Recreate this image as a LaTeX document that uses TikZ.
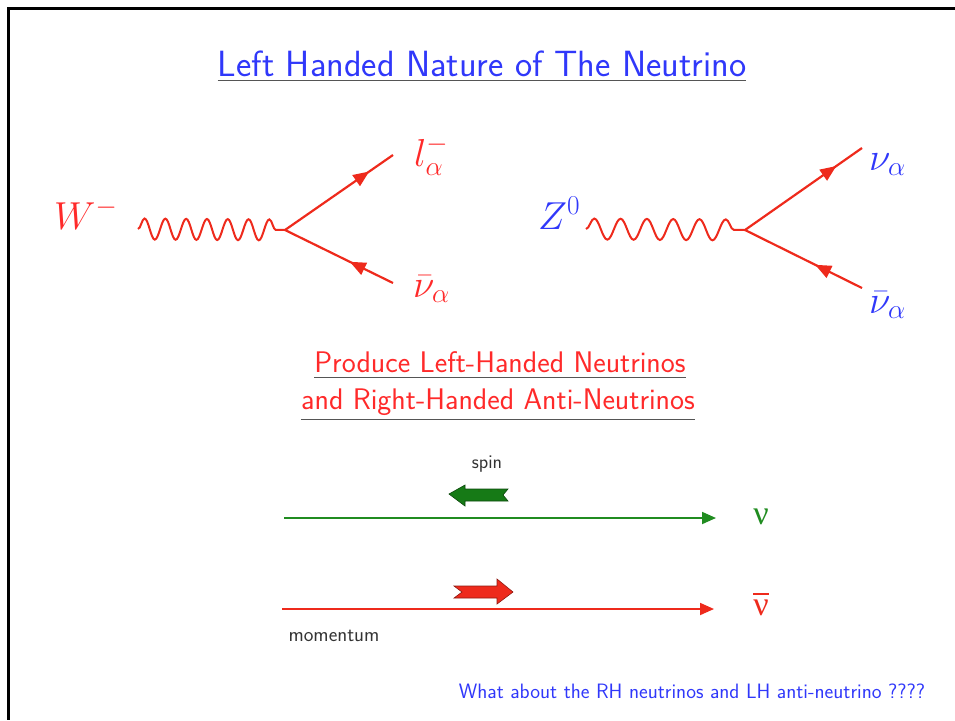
\RequirePackage{fix-cm}
\documentclass[tikz,border=0pt]{standalone}
\usepackage{fontspec}
\newfontfamily\nufont{Liberation Serif}
\usetikzlibrary{arrows.meta,decorations.pathmorphing,decorations.markings}
\definecolor{lnred}{RGB}{238,42,28}
\definecolor{txtred}{RGB}{255,42,42}
\definecolor{txtblue}{RGB}{48,56,250}
\definecolor{lngreen}{RGB}{32,140,32}
\definecolor{spingreen}{RGB}{22,122,22}
\definecolor{ulgray}{RGB}{85,85,85}
\tikzset{
  boson/.style={draw=lnred,line width=2pt,decorate,decoration={snake,amplitude=10.5pt,segment length=#1}},
  fermion/.style={draw=lnred,line width=2.2pt,postaction={decorate},
    decoration={markings,mark=at position #1 with {\arrow{Triangle[length=16pt,width=13pt]}}}},
  mathlbl/.style={inner sep=0pt,anchor=base west,font=\fontsize{39}{44}\selectfont},
  sftxt/.style={inner sep=0pt,anchor=base,font=\sffamily\fontsize{#1}{#1}\selectfont},
  uline/.style={draw=ulgray,line width=1.3pt},
  momline/.style={line width=1.8pt,-{Triangle[length=14pt,width=12pt]}},
  spinarrow/.style={line width=0.6pt,line join=miter}
}
\begin{document}
\begin{tikzpicture}[x=1pt,y=-1pt]
\useasboundingbox (0,0) rectangle (955,720);
\draw[line width=3pt] (955,8.5) -- (8.5,8.5) -- (8.5,720);
% title
\node[sftxt=36.5,text=txtblue] (ttl) at (482,76) {Left Handed Nature of The Neutrino};
\draw[uline] ([yshift=-4pt]ttl.south west) -- ([yshift=-4pt]ttl.south east);
% W vertex
\node[mathlbl,text=txtred] (W) at (54,229) {$W^-$};
\coordinate (wstart) at (138,229);
\coordinate (wv) at (285,230);
\coordinate (wl) at (393,155);
\coordinate (wn) at (393,283);
\draw[boson=20.8pt] (wstart) -- (wv);
\draw[fermion=0.78] (wv) -- (wl);
\draw[fermion=0.40] (wn) -- (wv);
\node[mathlbl,text=txtred] (lep) at (414,166) {$l_\alpha^-$};
\node[mathlbl,text=txtred] (wnub) at (413,297) {$\bar\nu_\alpha$};
% Z vertex
\node[mathlbl,text=txtblue] (Z) at (538,229) {$Z^0$};
\coordinate (zstart) at (586,229);
\coordinate (zv) at (745,230);
\coordinate (zn) at (862,148);
\coordinate (znb) at (862,288);
\draw[boson=26.3pt] (zstart) -- (zv);
\draw[fermion=0.78] (zv) -- (zn);
\draw[fermion=0.40] (znb) -- (zv);
\node[mathlbl,text=txtblue] (znu) at (869,170) {$\nu_\alpha$};
\node[mathlbl,text=txtblue] (zbar) at (869,313) {$\bar\nu_\alpha$};
% helicity
\node[sftxt=29.8,text=txtred] (lh) at (500,372) {Produce Left-Handed Neutrinos};
\draw[uline] ([yshift=-5pt]lh.south west) -- ([yshift=-5pt]lh.south east);
\node[sftxt=29.8,text=txtred] (rh) at (498,409) {and Right-Handed Anti-Neutrinos};
\draw[uline] ([yshift=-4pt]rh.south west) -- ([yshift=-4pt]rh.south east);
\node[sftxt=19.5,text=black!80] (spin) at (487,468) {spin};
\draw[spinarrow,fill=spingreen,draw=spingreen!60!black]
  (449,494) -- (465,485) -- (465,489) -- (508,489) -- (503,495) -- (508,501) -- (465,501) -- (465,506) -- cycle;
\coordinate (nua) at (284,518);
\coordinate (nub) at (716,518);
\draw[momline,lngreen] (nua) -- (nub);
\node[inner sep=0pt,anchor=base,text=lngreen,font=\nufont\fontsize{34}{34}\selectfont] (nu) at (761,524) {ν};
\draw[spinarrow,fill=lnred,draw=lnred!60!black]
  (454,586) -- (497,586) -- (497,579) -- (513,592) -- (497,604) -- (497,598) -- (454,598) -- (462,592) -- cycle;
\coordinate (aba) at (282,609);
\coordinate (abb) at (714,609);
\draw[momline,lnred] (aba) -- (abb);
\node[inner sep=0pt,anchor=base,text=lnred,font=\nufont\fontsize{34}{34}\selectfont] (anu) at (761,615)
  {\setbox0\hbox{ν}\rlap{\raisebox{\dimexpr\ht0+4pt\relax}{\rule{\wd0}{2.6pt}}}\box0};
\node[sftxt=20.5,text=black!80] (mom) at (334,641) {momentum};
% question
\node[sftxt=20.8,text=txtblue] (qq) at (692,698) {What about the RH neutrinos and LH anti-neutrino ????};
\end{tikzpicture}
\end{document}
